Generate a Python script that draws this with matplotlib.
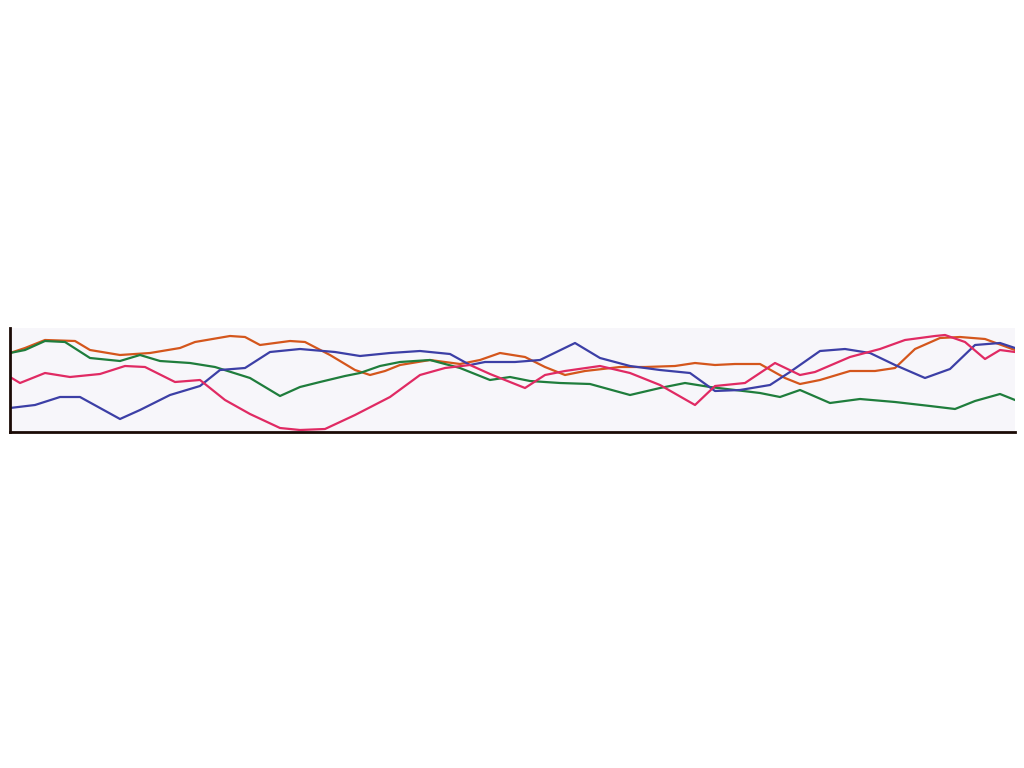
import matplotlib
matplotlib.use("Agg")
import matplotlib.pyplot as plt
import numpy as np

# values (0 = bottom axis, 104 = top of plot)
orange_x = [10, 25, 45, 75, 90, 120, 150, 180, 195, 230, 245, 260, 290, 305, 330, 355, 370, 385, 400, 430,
            460, 480, 500, 525, 545, 565, 585, 620, 645, 675, 695, 715, 735, 760, 785, 800, 820, 850, 875,
            895, 915, 940, 960, 985, 1015]
orange_y = [79, 84, 92, 91, 82, 77, 79, 84, 90, 96, 95, 87, 91, 90, 77, 62, 57, 61, 67, 72,
            68, 72, 79, 75, 65, 57, 61, 65, 65, 66, 69, 67, 68, 68, 54, 48, 52, 61, 61,
            64, 83, 94, 95, 93, 82]

green_x = [10, 25, 45, 65, 90, 120, 140, 160, 190, 215, 250, 280, 300, 320, 345, 360, 380, 400, 430, 460,
           490, 510, 530, 560, 590, 630, 660, 685, 710, 760, 780, 800, 830, 860, 895, 930, 955, 975, 1000, 1015]
green_y = [79, 82, 91, 90, 74, 71, 77, 71, 69, 65, 54, 36, 45, 50, 56, 59, 66, 70, 72, 64,
           52, 55, 51, 49, 48, 37, 44, 49, 45, 39, 35, 42, 29, 33, 30, 26, 23, 31, 38, 32]

blue_x = [10, 35, 60, 80, 100, 120, 140, 170, 200, 220, 245, 270, 300, 335, 360, 390, 420, 450, 470, 485,
          515, 540, 575, 600, 630, 660, 690, 715, 740, 770, 790, 820, 845, 870, 895, 925, 950, 975, 1000, 1015]
blue_y = [24, 27, 35, 35, 24, 13, 22, 37, 46, 62, 64, 80, 83, 80, 76, 79, 81, 78, 67, 70,
          70, 72, 89, 74, 66, 62, 59, 41, 42, 47, 60, 81, 83, 79, 67, 54, 63, 87, 89, 84]

pink_x = [10, 20, 45, 70, 100, 125, 145, 175, 200, 225, 250, 280, 300, 325, 355, 390, 420, 445, 470, 490,
          525, 545, 565, 600, 630, 660, 695, 715, 745, 775, 800, 815, 850, 880, 905, 935, 945, 965, 985,
          1000, 1015]
pink_y = [55, 49, 59, 55, 58, 66, 65, 50, 52, 32, 18, 4, 2, 3, 17, 35, 57, 64, 67, 58,
          44, 57, 61, 66, 59, 47, 27, 46, 49, 69, 57, 60, 75, 83, 92, 96, 97, 90, 73,
          82, 80]

series = [
    (orange_x, orange_y, "#d4561c"),
    (green_x, green_y, "#1f7d3c"),
    (blue_x, blue_y, "#3c3fa6"),
    (pink_x, pink_y, "#e02a63"),
]

fig = plt.figure(figsize=(10.24, 7.68), dpi=100)
ax = fig.add_axes([10 / 1024, 1 - 432 / 768, 1005 / 1024, 104 / 768])
ax.set_facecolor("#f7f6fa")
for xs, ys, color in series:
    ax.plot(xs, ys, color=color, lw=1.6)

ax.set_xlim(10, 1015)
ax.set_ylim(0, 104)
ax.set_xticks([])
ax.set_yticks([])
for side in ("top", "right"):
    ax.spines[side].set_visible(False)
for side in ("left", "bottom"):
    ax.spines[side].set_color("#1a0a05")
    ax.spines[side].set_linewidth(2)

fig.savefig("out.png", dpi=100)
